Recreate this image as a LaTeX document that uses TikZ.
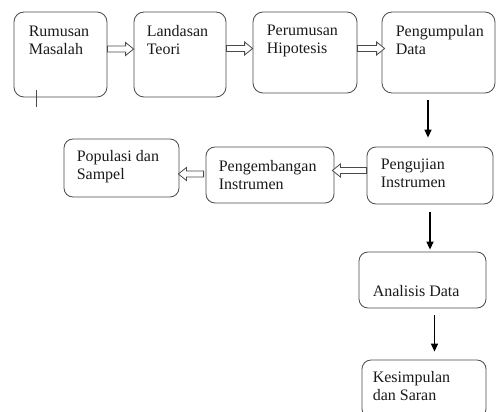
\documentclass[tikz,border=0pt]{standalone}
\usepackage{fontspec}
\setmainfont{Liberation Serif}
\usetikzlibrary{calc,arrows.meta}
\definecolor{boxline}{HTML}{4A4A4A}
\definecolor{txt}{HTML}{1A1A1A}
% hollow block arrow from #1 to the x of #2 (horizontal)
\newcommand{\hollowarrow}[2]{%
  \draw[hollow] let \p1=#1, \p2=#2, \n1={sign(\x2-\x1)} in
    (\x1,\y1+3pt) -- (\x2-\n1*8pt,\y1+3pt) -- (\x2-\n1*8pt,\y1+6.5pt)
    -- (\x2,\y1) -- (\x2-\n1*8pt,\y1-6.5pt) -- (\x2-\n1*8pt,\y1-3pt)
    -- (\x1,\y1-3pt) -- cycle;}
\begin{document}
\begin{tikzpicture}[x=1pt,y=-1pt,
    font=\fontsize{16}{18}\selectfont,
    stepbox/.style={draw=boxline,line width=0.8pt,rounded corners=10pt,inner sep=0pt},
    boxtext/.style={anchor=base west,align=left,inner sep=0pt,text=txt},
    hollow/.style={draw=boxline,line width=0.8pt,fill=white},
    flow/.style={draw=black,line width=1.3pt,-{Triangle[width=7pt,length=8pt]}}]
  \clip (0,0) rectangle (496,412);

  % top row
  \node[stepbox,minimum width=93pt,minimum height=85pt] (rumusan) at (60.5,54.5) {};
  \node[stepbox,minimum width=92pt,minimum height=85pt] (landasan) at (180,54.5) {};
  \node[stepbox,minimum width=104pt,minimum height=81pt] (perumusan) at (305,52.5) {};
  \node[stepbox,minimum width=113pt,minimum height=81pt] (pengumpulan) at (438.5,52.5) {};
  % base of two-line text = baseline of its last line
  \node[boxtext] (rumusantxt) at ([shift={(15pt,-43pt)}]rumusan.north west) {Rumusan\\Masalah};
  \node[boxtext] (landasantxt) at ([shift={(13pt,-43pt)}]landasan.north west) {Landasan\\Teori};
  \node[boxtext] (perumusantxt) at ([shift={(14pt,-42pt)}]perumusan.north west) {Perumusan\\Hipotesis};
  \node[boxtext] (pengumpulantxt) at ([shift={(14pt,-43pt)}]pengumpulan.north west) {Pengumpulan\\Data};
  \draw[boxline,line width=0.8pt] ([shift={(23pt,7pt)}]rumusan.south west) -- ([shift={(23pt,-10pt)}]rumusan.south west);

  % middle row
  \node[stepbox,rounded corners=9pt,minimum width=115pt,minimum height=58pt] (populasi) at (121.5,168) {};
  \node[stepbox,rounded corners=9pt,minimum width=128pt,minimum height=56pt] (pengembangan) at (270,175) {};
  \node[stepbox,rounded corners=9pt,minimum width=126pt,minimum height=57pt] (pengujian) at (430,175.5) {};
  \node[boxtext] (populasitxt) at ([shift={(13pt,-41pt)}]populasi.north west) {Populasi dan\\Sampel};
  \node[boxtext] (pengembangantxt) at ([shift={(13pt,-43pt)}]pengembangan.north west) {Pengembangan\\Instrumen};
  \node[boxtext] (pengujiantxt) at ([shift={(14pt,-41pt)}]pengujian.north west) {Pengujian\\Instrumen};

  % right column
  \node[stepbox,rounded corners=9pt,minimum width=127pt,minimum height=56pt] (analisis) at (422.5,280) {};
  \node[stepbox,rounded corners=9pt,minimum width=124pt,minimum height=58pt] (kesimpulan) at (424,389) {};
  \node[boxtext] (analisistxt) at ([shift={(14pt,-45pt)}]analisis.north west) {Analisis Data};
  \node[boxtext] (kesimpulantxt) at ([shift={(11pt,-41pt)}]kesimpulan.north west) {Kesimpulan\\dan Saran};

  % block arrows
  \hollowarrow{([yshift=5.5pt]rumusan.east)}{(landasan.west)}
  \hollowarrow{([yshift=6pt]landasan.east)}{(perumusan.west)}
  \hollowarrow{([yshift=4pt]perumusan.east)}{([xshift=3pt]pengumpulan.west)}
  \hollowarrow{([yshift=5pt]pengujian.west)}{([xshift=-2pt]pengembangan.east)}
  \hollowarrow{([xshift=-2pt,yshift=1pt]pengembangan.west)}{([xshift=-1pt]populasi.east)}

  % line arrows
  \draw[flow,shorten <=7pt,shorten >=9pt] ([xshift=-2pt]pengujian.north |- pengumpulan.south) -- ([xshift=-2pt]pengujian.north);
  \draw[flow,shorten <=8pt,shorten >=2pt] (pengujian.south) -- (pengujian.south |- analisis.north);
  \draw[flow,shorten <=7pt,shorten >=8pt] ([xshift=12pt]analisis.south) -- ([xshift=12pt]analisis.south |- kesimpulan.north);
\end{tikzpicture}
\end{document}
